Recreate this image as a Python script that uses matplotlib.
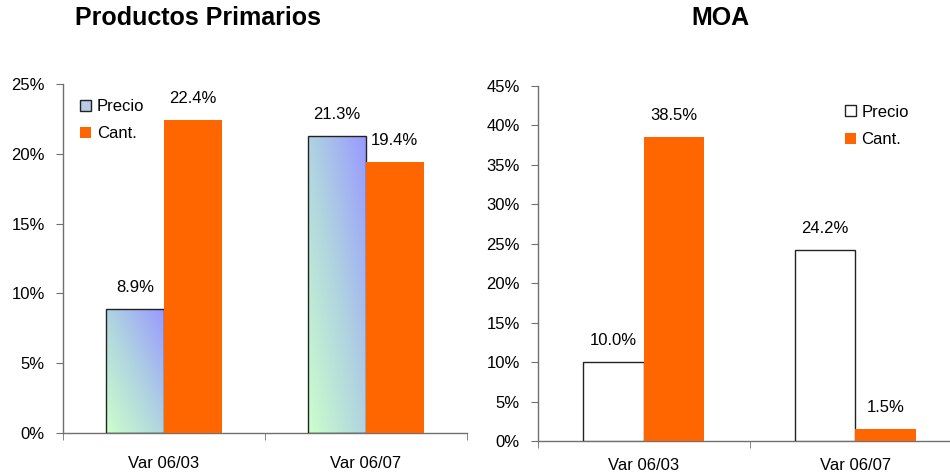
import numpy as np
import matplotlib
matplotlib.use("Agg")
import matplotlib.pyplot as plt
from matplotlib.patches import Patch
from matplotlib.colors import LinearSegmentedColormap

plt.rcParams['font.family'] = ['Liberation Sans', 'DejaVu Sans']

categories = ["Var 06/03", "Var 06/07"]
pp_precio = [8.9, 21.3]
pp_cant = [22.4, 19.4]
moa_precio = [10.0, 24.2]
moa_cant = [38.5, 1.5]
titles = ["Productos Primarios", "MOA"]
series_names = ["Precio", "Cant."]

ORANGE = "#ff6600"
AXC = "#707070"
grad_cmap = LinearSegmentedColormap.from_list("g", ["#ccffcc", "#b0d4e0", "#9999ff"])

fig = plt.figure(figsize=(9.5, 4.74), dpi=100)
ax1 = fig.add_axes([63/950, (474-433)/474, 404/950, (433-84)/474])
ax2 = fig.add_axes([538/950, (474-441)/474, 423/950, (441-86)/474])

w = 0.285
x = np.arange(len(categories))


def style(ax, ymax, step, xpad):
    ax.set_xlim(-0.5, len(categories) - 0.5)
    ax.set_ylim(0, ymax)
    ax.set_yticks(np.arange(0, ymax + 0.01, step))
    ax.set_yticklabels([f"{int(v)}%" for v in np.arange(0, ymax + 0.01, step)], fontsize=12)
    ax.set_xticks(x)
    ax.set_xticklabels(categories, fontsize=12)
    ax.set_xticks(np.arange(-0.5, len(categories), 1.0), minor=True)
    ax.tick_params(axis='x', which='major', length=0, pad=xpad)
    ax.tick_params(axis='x', which='minor', length=5, direction='out', color=AXC)
    ax.tick_params(axis='y', length=5, direction='out', color=AXC, pad=8)
    for s in ['top', 'right']:
        ax.spines[s].set_visible(False)
    for s in ['left', 'bottom']:
        ax.spines[s].set_color(AXC)
        ax.spines[s].set_linewidth(1.0)


def label(ax, xs, vals):
    for xi, v in zip(xs, vals):
        ax.annotate(f"{v:.1f}%", (xi, v), xytext=(0, 10), textcoords='offset points',
                    ha='center', va='bottom', fontsize=12)


# Left chart
style(ax1, 25, 5, 16.5)
bars = ax1.bar(x - w/2, pp_precio, w, facecolor='none', edgecolor='#222222', linewidth=1.0, zorder=3)
uu, vv = np.meshgrid(np.linspace(0, 1, 100), np.linspace(0, 1, 100))
grad = (uu + vv) / 2
for b in bars:
    x0, y0 = b.get_x(), b.get_y()
    im = ax1.imshow(grad, cmap=grad_cmap, origin='lower', aspect='auto',
                    extent=[x0, x0 + b.get_width(), y0, y0 + b.get_height()], zorder=2)
    im.set_clip_path(b)
ax1.set_xlim(-0.5, 1.5)
ax1.set_ylim(0, 25)
ax1.bar(x + w/2, pp_cant, w, color=ORANGE, zorder=3)
label(ax1, x - w/2, pp_precio)
label(ax1, x + w/2, pp_cant)
h1 = [Patch(facecolor='#b8cce4', edgecolor='#222222', linewidth=1.0),
      Patch(facecolor=ORANGE, edgecolor='none')]
ax1.legend(h1, series_names, loc='upper left', bbox_to_anchor=(0.005, 1.0), frameon=False,
           fontsize=12, handlelength=0.65, handleheight=0.65, handletextpad=0.35, labelspacing=0.75)

# Right chart
style(ax2, 45, 5, 12)
ax2.bar(x - w/2, moa_precio, w, facecolor='white', edgecolor='#222222', linewidth=1.0, zorder=3)
ax2.bar(x + w/2, moa_cant, w, color=ORANGE, zorder=3)
label(ax2, x - w/2, moa_precio)
label(ax2, x + w/2, moa_cant)
h2 = [Patch(facecolor='white', edgecolor='#222222', linewidth=1.0),
      Patch(facecolor=ORANGE, edgecolor='none')]
ax2.legend(h2, series_names, loc='upper left', bbox_to_anchor=(0.69, 0.99), frameon=False,
           fontsize=12, handlelength=0.65, handleheight=0.65, handletextpad=0.35, labelspacing=0.75)

fig.text(198/950, 1 - 18/474, titles[0], ha='center', va='center', fontsize=18, fontweight='bold')
fig.text(720/950, 1 - 18/474, titles[1], ha='center', va='center', fontsize=18, fontweight='bold')

fig.savefig("out.png", dpi=100)
